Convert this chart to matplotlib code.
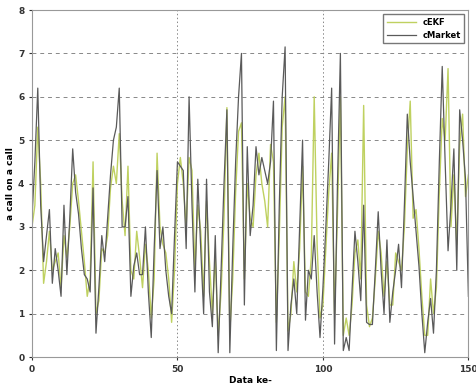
import matplotlib
matplotlib.use("Agg")
import matplotlib.pyplot as plt

idx = list(range(151))
cMarket = [3.2, 4.5, 6.2, 3.5, 2.2, 2.8, 3.4, 1.7, 2.5, 2.0,
           1.4, 3.5, 1.9, 3.2, 4.8, 3.8, 3.3, 2.5, 1.9, 1.8,
           1.5, 3.9, 0.55, 1.6, 2.8, 2.2, 3.2, 4.2, 5.0, 5.3,
           6.2, 3.0, 3.0, 3.7, 1.4, 2.1, 2.4, 1.9, 1.9, 3.0,
           1.5, 0.45, 2.5, 4.3, 2.5, 3.0, 2.0, 1.4, 1.0, 2.8,
           4.5, 4.4, 4.3, 2.5, 6.0, 3.5, 1.5, 4.1, 2.5, 1.0,
           4.1, 1.5, 0.7, 2.8, 0.1, 2.0, 4.0, 5.7, 0.1, 2.5,
           4.5, 6.0, 7.0, 1.2, 4.85, 2.8, 3.5, 4.85, 4.2, 4.6,
           4.3, 4.0, 4.5, 5.9, 0.15, 3.5, 6.0, 7.15, 0.15, 1.2,
           1.8, 1.0, 3.0, 5.0, 0.85, 2.0, 1.8, 2.8, 1.5, 0.45,
           1.6, 3.0, 4.5, 6.2, 0.3, 4.0, 7.0, 0.15, 0.45, 0.15,
           1.5, 2.9, 2.2, 1.3, 3.5, 0.8, 0.75, 0.75, 2.0, 3.35,
           2.0, 1.0, 2.7, 0.8, 1.5, 2.0, 2.6, 1.6, 3.5, 5.6,
           4.5, 3.7, 2.9, 2.1, 1.0, 0.1, 0.8, 1.35, 0.55, 2.0,
           4.5, 6.7, 4.5, 2.45, 3.5, 4.8, 2.0, 5.7, 5.0, 4.1,
           1.4]
cEKF = [3.0, 3.5, 5.3, 4.0, 1.7, 2.2, 2.9, 2.0, 2.2, 2.4,
        1.6, 2.8, 2.3, 3.0, 4.0, 4.2, 3.6, 2.9, 2.2, 1.4,
        1.8, 4.5, 1.0, 1.3, 2.5, 2.4, 2.8, 3.9, 4.4, 4.0,
        5.15, 3.6, 2.8, 4.4, 2.0, 1.8, 2.9, 2.3, 1.6, 2.6,
        2.0, 0.9, 1.8, 4.7, 3.0, 2.6, 2.4, 1.8, 0.8, 2.0,
        4.0, 4.6, 4.0, 3.0, 4.6, 4.3, 2.0, 3.5, 2.9, 1.4,
        3.6, 2.2, 1.0, 2.3, 0.5, 1.5, 3.2, 5.75, 0.6, 1.8,
        3.8, 5.2, 5.4, 1.8, 4.0, 3.2, 3.0, 4.2, 4.7, 4.0,
        3.6, 3.0, 4.9, 4.5, 0.8, 2.8, 5.3, 6.0, 0.6, 1.0,
        2.2, 1.5, 2.5, 4.4, 1.5, 1.4, 2.3, 6.0, 2.6, 0.9,
        1.2, 2.5, 3.8, 4.7, 1.0, 3.3, 6.0, 0.5, 0.9, 0.5,
        1.2, 2.4, 2.7, 1.8, 5.8, 1.2, 0.7, 0.9, 1.8, 2.9,
        2.4, 1.4, 2.2, 1.2, 1.2, 2.4, 2.2, 2.0, 3.0, 4.8,
        5.9, 3.2, 3.4, 2.5, 1.4, 0.5, 0.5, 1.8, 1.0, 1.6,
        3.8, 5.5, 5.0, 6.65, 3.0, 4.2, 2.6, 4.9, 5.6, 3.7,
        4.2]
xticks = [0, 50, 100, 150]
yticks = [0, 1, 2, 3, 4, 5, 6, 7, 8]

fig = plt.figure(figsize=(4.77, 3.86), dpi=100)
ax = fig.add_axes([0.067, 0.075, 0.915, 0.899])
ax.plot(idx, cEKF, color="#bfd160", lw=1.0, label="cEKF")
ax.plot(idx, cMarket, color="#5a5a5a", lw=0.9, label="cMarket")
ax.set_xlim(0, 150)
ax.set_ylim(0, 8)
ax.set_xticks(xticks)
ax.set_yticks(yticks)
for y in yticks[1:-1]:
    ax.axhline(y, color="#888888", lw=0.7, ls=(0, (4, 4)), zorder=0)
for x in xticks[1:-1]:
    ax.axvline(x, color="#888888", lw=0.7, ls=(0, (1.5, 2.5)), zorder=0)
for s in ax.spines.values():
    s.set_color("#999999")
ax.tick_params(labelsize=6.5, length=2, colors="#333333")
for lab in ax.get_xticklabels() + ax.get_yticklabels():
    lab.set_fontweight("bold")
ax.set_xlabel("Data ke-", fontsize=6.5, fontweight="bold", labelpad=2)
ax.set_ylabel("a call on a call", fontsize=6.5, fontweight="bold", labelpad=2)
leg = ax.legend(loc="upper right", fontsize=6, frameon=True, fancybox=False,
                edgecolor="#555555", handlelength=3.5, borderpad=0.4)
for t in leg.get_texts():
    t.set_fontweight("bold")
fig.savefig("out.png", dpi=100)
